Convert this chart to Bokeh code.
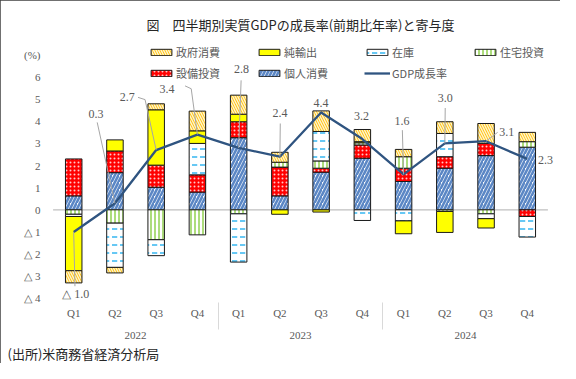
from bokeh.plotting import figure
from bokeh.models import (ColumnDataSource, FactorRange, Range1d, Legend,
                          LegendItem, LabelSet, Title, FixedTicker)
from bokeh.embed import file_html
from bokeh.resources import INLINE

# ---------------- data ----------------
years = ["2022"] * 4 + ["2023"] * 4 + ["2024"] * 4
quarters = ["Q1", "Q2", "Q3", "Q4"] * 3

personal = [0.63, 1.68, 1.02, 0.80, 3.26, 0.63, 1.70, 2.33, 1.28, 1.88, 2.45, 2.83]      # 個人消費
equipment = [1.67, 0.98, 1.00, 0.78, 0.72, 1.30, 0.18, 0.60, 0.60, 0.52, 0.55, -0.30]    # 設備投資
housing = [-0.20, -0.60, -1.35, -1.13, -0.18, 0.22, 0.33, 0.10, 0.52, -0.07, -0.18, 0.25] # 住宅投資
inventory = [-0.10, -2.00, -0.72, 1.42, -2.18, 0.0, 1.33, -0.48, -0.50, 1.05, -0.22, -0.93]  # 在庫
net_exports = [-2.45, 0.50, 2.50, 0.57, 0.34, -0.20, -0.10, 0.05, -0.58, -0.95, -0.42, 0.0]  # 純輸出
government = [-0.55, -0.25, 0.27, 0.89, 0.86, 0.45, 0.93, 0.55, 0.33, 0.53, 0.90, 0.42]     # 政府消費
gdp = [-1.0, 0.3, 2.7, 3.4, 2.8, 2.4, 4.4, 3.2, 1.6, 3.0, 3.1, 2.3]                          # GDP成長率

y_ticks = [-4, -3, -2, -1, 0, 1, 2, 3, 4, 5, 6, 7]
y_tick_labels = ["△ 4", "△ 3", "△ 2", "△ 1", "0", "1", "2", "3", "4", "5", "6", "(%)"]

title_text = "図　四半期別実質GDPの成長率(前期比年率)と寄与度"
source_text = "(出所)米商務省経済分析局"

# ---------------- layout / style (not data) ----------------
# label placement relative to each GDP point: (dx in category units, label y, align)
label_pos = [(0.05, -3.78, "center"), (-0.46, 4.35, "center"), (-0.70, 5.08, "center"),
             (-0.74, 5.48, "center"), (0.07, 6.35, "center"), (0.0, 4.38, "center"),
             (0.0, 4.81, "center"), (-0.02, 4.26, "center"), (-0.04, 4.02, "center"),
             (0.01, 5.03, "center"), (0.32, 3.50, "left"), (0.26, 2.25, "left")]
# leader paths (dx, y) from label towards the point (point appended automatically)
leader_paths = [[(0.03, -3.45)], [(-0.43, 3.95)], [(-0.44, 5.08), (-0.27, 4.98)],
                [(-0.30, 5.60), (-0.15, 5.47)], [(0.06, 5.85)], [(0.01, 3.90)],
                None, None, [(-0.03, 3.60)], [(0.01, 4.60)], [(0.28, 3.50)], None]

SERIF = "Liberation Serif"
JP = "Noto Sans CJK JP"
GRAY = "#595959"
PAD = 0.16      # extra room right/left of the category area (category units)
SPACER = " "    # blank middle axis level: vertical gap between quarter and year rows

factors = [(y, SPACER, q) for y, q in zip(years, quarters)]
n = len(factors)

p = figure(width=560, height=363,
           x_range=FactorRange(*factors, range_padding=PAD, range_padding_units="absolute",
                               group_padding=0, subgroup_padding=0, factor_padding=0),
           y_range=Range1d(-4.05, 7.74),
           output_backend="svg", toolbar_location=None,
           min_border_left=46, min_border_right=6, min_border_top=38,
           min_border_bottom=64)
p.styles = {"outline": "1px solid #404040", "outline-offset": "-1px"}
p.grid.visible = False
p.outline_line_color = None

# zero line across the category area only
p.segment(x0=[0], y0=[0], x1=[n], y1=[0], line_color="#BFBFBF", line_width=1.2)

# ---------------- stacked bars ----------------
series = [
    ("個人消費", personal, dict(fill_color="white", hatch_pattern="right_diagonal_line",
                                hatch_color="#5B87C5", hatch_weight=2.6, hatch_scale=7)),
    ("設備投資", equipment, dict(fill_color="#FF0000", hatch_pattern="dot",
                                 hatch_color="#FFC8C8", hatch_weight=1.2, hatch_scale=4)),
    ("住宅投資", housing, dict(fill_color="white", hatch_pattern="vertical_line",
                               hatch_color="#92D050", hatch_weight=1.5, hatch_scale=4)),
    ("在庫", inventory, dict(fill_color="white", hatch_pattern="horizontal_dash",
                             hatch_color="#33B5F0", hatch_weight=1.5, hatch_scale=8)),
    ("純輸出", net_exports, dict(fill_color="#FFFF00")),
    ("政府消費", government, dict(fill_color="#FFC000", hatch_pattern="left_diagonal_line",
                                  hatch_color="#FFF2CC", hatch_weight=1.5, hatch_scale=5)),
]

pos_base = [0.0] * n
neg_base = [0.0] * n
renderers = {}
for name, vals, style in series:
    xs, tops, bottoms = [], [], []
    for i, v in enumerate(vals):
        if v == 0:
            continue
        if v > 0:
            b, t = pos_base[i], pos_base[i] + v
            pos_base[i] = t
        else:
            t, b = neg_base[i], neg_base[i] + v
            neg_base[i] = b
        xs.append(factors[i])
        tops.append(t)
        bottoms.append(b)
    src = ColumnDataSource(dict(x=xs, top=tops, bottom=bottoms))
    r = p.vbar(x="x", top="top", bottom="bottom", width=0.4, source=src,
               line_color="#1a1a1a", line_width=1, **style)
    renderers[name] = r

# ---------------- GDP line ----------------
line_r = p.line(x=factors, y=gdp, line_color="#2F5480", line_width=2.3)

# leader lines
lx, ly = [], []
for i, path in enumerate(leader_paths):
    if path is None:
        continue
    c = i + 0.5
    lx.append([c + dx for dx, _ in path] + [c])
    ly.append([y for _, y in path] + [gdp[i]])
p.multi_line(xs=lx, ys=ly, line_color="#A6A6A6", line_width=1)

# value labels
for align in ("center", "left"):
    tx, ty, tt = [], [], []
    for i, (dx, yy, al) in enumerate(label_pos):
        if al != align:
            continue
        tx.append(i + 0.5 + dx)
        ty.append(yy)
        v = gdp[i]
        tt.append(f"△ {abs(v):.1f}" if v < 0 else f"{v:.1f}")
    lsrc = ColumnDataSource(dict(x=tx, y=ty, text=tt))
    p.add_layout(LabelSet(x="x", y="y", text="text", source=lsrc, text_align=align,
                          text_baseline="middle", text_font=SERIF, text_font_size="12px",
                          text_color=GRAY))

# ---------------- axes ----------------
p.yaxis.ticker = FixedTicker(ticks=y_ticks)
p.yaxis.major_label_overrides = {t: s for t, s in zip(y_ticks, y_tick_labels)}
p.yaxis.axis_line_color = None
p.yaxis.major_tick_line_color = None
p.yaxis.minor_tick_line_color = None
p.yaxis.major_label_text_font = SERIF
p.yaxis.major_label_text_font_size = "11px"
p.yaxis.major_label_text_color = GRAY
p.yaxis.major_label_standoff = 0

p.xaxis.axis_line_color = None
p.xaxis.major_tick_line_color = None
p.xaxis.minor_tick_line_color = None
p.xaxis.major_label_text_font = SERIF
p.xaxis.major_label_text_font_size = "11px"
p.xaxis.major_label_text_color = GRAY
p.xaxis.subgroup_text_font_size = "4px"
p.xaxis.group_text_font = SERIF
p.xaxis.group_text_font_size = "11px"
p.xaxis.group_text_color = GRAY
p.xaxis.group_text_font_style = "normal"
p.xaxis.separator_line_color = "#D9D9D9"
p.xaxis.separator_line_width = 1
p.xaxis.major_label_standoff = 1

# ---------------- legend ----------------
order = ["政府消費", "純輸出", "在庫", "住宅投資", "設備投資", "個人消費"]
items = [LegendItem(label=k, renderers=[renderers[k]]) for k in order]
items.append(LegendItem(label="GDP成長率", renderers=[line_r]))
legend = Legend(items=items, orientation="horizontal", ncols=4, location=(102, 216),
                glyph_width=26, glyph_height=8, label_width=79, label_height=20,
                label_standoff=2, spacing=1, padding=3, margin=0,
                label_text_font=JP, label_text_font_size="11px", label_text_color=GRAY,
                background_fill_alpha=0, border_line_color=None)
p.add_layout(legend, "center")

# ---------------- titles ----------------
p.title.text = title_text
p.title.align = "center"
p.title.text_font = JP
p.title.text_font_size = "13px"
p.title.text_font_style = "normal"
p.title.text_color = "#262626"

p.add_layout(Title(text=source_text, align="left", offset=-39, standoff=0, text_font=JP,
                   text_font_size="13px", text_font_style="normal",
                   text_color="#262626"), "below")

open("out.html", "w").write(file_html(p, INLINE))
